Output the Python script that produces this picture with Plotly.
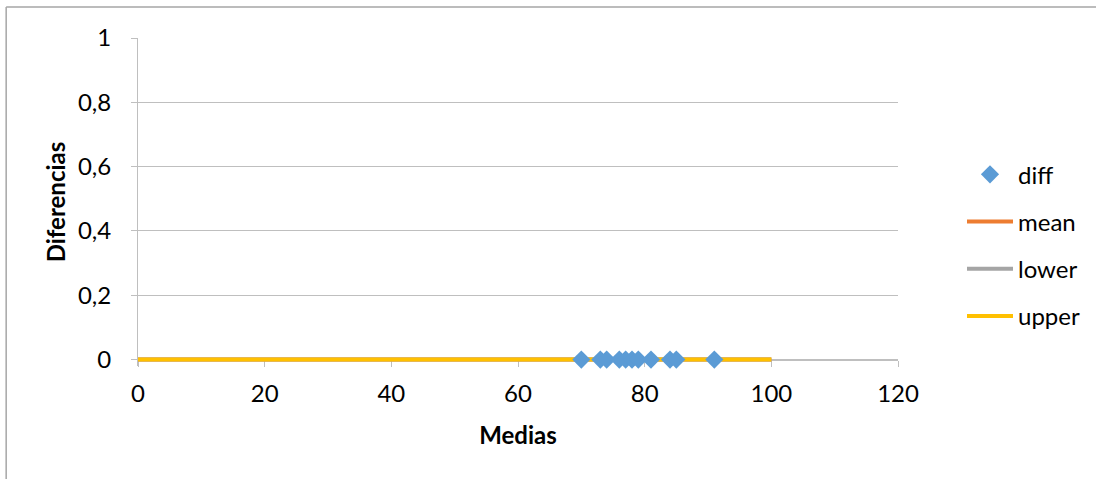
import plotly.graph_objects as go

medias = [70, 73, 74, 76, 77, 78, 79, 81, 84, 85, 91]
diferencias = [0, 0, 0, 0, 0, 0, 0, 0, 0, 0, 0]
line_x = [0, 100]
mean_y = [0, 0]
lower_y = [0, 0]
upper_y = [0, 0]
y_ticks = [0, 0.2, 0.4, 0.6, 0.8, 1]
x_ticks = [0, 20, 40, 60, 80, 100, 120]

FONT = "Lato"
FS = 24
grid = "#BFBFBF"

# plot geometry: 0 at y=360px, 1 at y=38px -> 322 px per unit
PX_PER_UNIT = 322.0
Y_LOW = -0.02
plot_h = (1 - Y_LOW) * PX_PER_UNIT
bottom_px = 38 + plot_h
x_axis_pos = (-Y_LOW * PX_PER_UNIT) / plot_h

fig = go.Figure()
fig.add_trace(go.Scatter(x=line_x, y=mean_y, mode="lines", name="mean",
                         line=dict(color="#ED7D31", width=4), cliponaxis=False,
                         legendrank=2, legendgroup="b"))
fig.add_trace(go.Scatter(x=line_x, y=lower_y, mode="lines", name="lower",
                         line=dict(color="#A5A5A5", width=4), cliponaxis=False,
                         legendrank=3, legendgroup="c"))
fig.add_trace(go.Scatter(x=line_x, y=upper_y, mode="lines", name="upper",
                         line=dict(color="#FFC000", width=4), cliponaxis=False,
                         legendrank=4, legendgroup="d"))
fig.add_trace(go.Scatter(x=medias, y=diferencias, mode="markers", name="diff",
                         marker=dict(symbol="diamond", size=14, color="#5B9BD5"),
                         cliponaxis=False, legendrank=1, legendgroup="a"))

def py(px):
    return (bottom_px - px) / plot_h

def pxx(px):
    return (px - 138) / 761.0

fig.update_layout(
    width=1096, height=479,
    margin=dict(l=138, r=197, t=38, b=479 - bottom_px),
    paper_bgcolor="white", plot_bgcolor="white",
    separators=",.",
    font=dict(family=FONT, size=FS, color="#000000"),
    showlegend=True,
    legend=dict(x=pxx(962), xanchor="left", y=py(245.5), yanchor="middle",
                font=dict(family=FONT, size=FS), tracegroupgap=13, itemwidth=46,
                bgcolor="rgba(0,0,0,0)"),
    xaxis=dict(range=[0, 120], tickvals=x_ticks, showgrid=False,
               anchor="free", position=x_axis_pos,
               showline=True, linecolor=grid, linewidth=1,
               ticks="outside", ticklen=6, tickcolor=grid,
               zeroline=False, layer="below traces", ticklabelstandoff=7,
               title=dict(text="<b>Medias</b>", font=dict(family=FONT, size=FS), standoff=20)),
    yaxis=dict(range=[Y_LOW, 1], tickvals=y_ticks, showgrid=True, gridcolor=grid,
               showline=True, linecolor=grid, linewidth=1,
               ticks="outside", ticklen=6, tickcolor=grid,
               zeroline=False, ticklabelstandoff=15, layer="below traces",
               title=dict(text="<b>Diferencias</b>", font=dict(family=FONT, size=FS), standoff=5)),
    shapes=[
        dict(type="line", xref="paper", yref="paper", x0=pxx(6), x1=pxx(1100), y0=py(7), y1=py(7),
             line=dict(color="#A6A6A6", width=1.5)),
        dict(type="line", xref="paper", yref="paper", x0=pxx(6), x1=pxx(6), y0=py(480), y1=py(7),
             line=dict(color="#A6A6A6", width=1.5)),
    ],
)
fig.write_html("out.html")
